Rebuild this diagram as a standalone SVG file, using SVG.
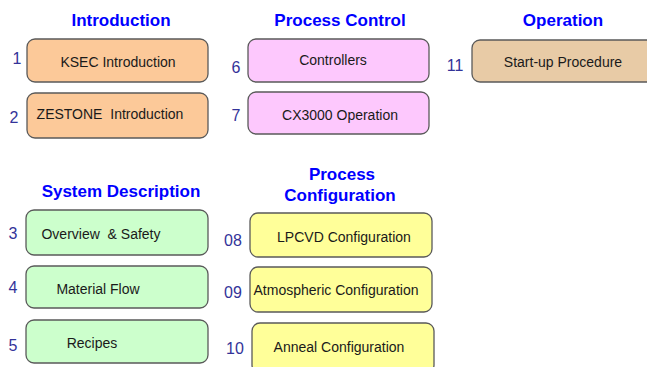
<svg xmlns="http://www.w3.org/2000/svg" width="647" height="367" viewBox="0 0 647 367">
<style>
.title{font-family:"Liberation Sans",Arial,sans-serif;font-weight:bold;font-size:17px;fill:#0000FF;text-anchor:middle}
.num{font-family:"Liberation Sans",Arial,sans-serif;font-size:16px;fill:#333399;text-anchor:middle}
.lbl{font-family:"Liberation Sans",Arial,sans-serif;font-size:14px;fill:#1a1a1a;text-anchor:middle}
.box{stroke:#5a5a5a;stroke-width:1.3}
.or{fill:#FCC999}
.pk{fill:#FDC8FD}
.gr{fill:#CCFFCC}
.ye{fill:#FFFF99}
.tn{fill:#E8CBA6}
</style>
<rect width="647" height="367" fill="#FFFFFF"/>
<g id="titles">
<text class="title" x="121" y="26">Introduction</text>
<text class="title" x="340" y="26">Process Control</text>
<text class="title" x="563" y="26">Operation</text>
<text class="title" x="121" y="197">System Description</text>
<text class="title" x="342" y="180">Process</text>
<text class="title" x="340" y="201">Configuration</text>
</g>
<g id="node1"><rect class="box or" x="27" y="39" width="181" height="43" rx="8"/><text class="num" x="17" y="64">1</text><text class="lbl" x="118" y="67">KSEC Introduction</text></g>
<g id="node2"><rect class="box or" x="27" y="93" width="181" height="45" rx="8"/><text class="num" x="14" y="123">2</text><text class="lbl" x="110" y="119" xml:space="preserve">ZESTONE  Introduction</text></g>
<g id="node6"><rect class="box pk" x="248" y="39" width="181" height="43" rx="8"/><text class="num" x="236" y="73">6</text><text class="lbl" x="333" y="65">Controllers</text></g>
<g id="node7"><rect class="box pk" x="248" y="92" width="181" height="42" rx="8"/><text class="num" x="236" y="121">7</text><text class="lbl" x="340" y="120">CX3000 Operation</text></g>
<g id="node11"><rect class="box tn" x="472" y="40" width="190" height="42" rx="8"/><text class="num" x="455" y="71">11</text><text class="lbl" x="563" y="67">Start-up Procedure</text></g>
<g id="node3"><rect class="box gr" x="26" y="210" width="182" height="45" rx="8"/><text class="num" x="13" y="239">3</text><text class="lbl" x="101" y="239" xml:space="preserve">Overview  &amp; Safety</text></g>
<g id="node4"><rect class="box gr" x="26" y="266" width="182" height="42" rx="8"/><text class="num" x="13" y="293">4</text><text class="lbl" x="98" y="294">Material Flow</text></g>
<g id="node5"><rect class="box gr" x="26" y="320" width="182" height="43" rx="8"/><text class="num" x="13" y="351">5</text><text class="lbl" x="92" y="348">Recipes</text></g>
<g id="node8"><rect class="box ye" x="250" y="213" width="182" height="44" rx="8"/><text class="num" x="233" y="246">08</text><text class="lbl" x="344" y="242">LPCVD Configuration</text></g>
<g id="node9"><rect class="box ye" x="250" y="267" width="182" height="45" rx="8"/><text class="num" x="233" y="298">09</text><text class="lbl" x="336" y="295">Atmospheric Configuration</text></g>
<g id="node10"><rect class="box ye" x="252" y="323" width="182" height="50" rx="8"/><text class="num" x="235" y="354">10</text><text class="lbl" x="339" y="352">Anneal Configuration</text></g>
<g id="connectors"/>
</svg>
